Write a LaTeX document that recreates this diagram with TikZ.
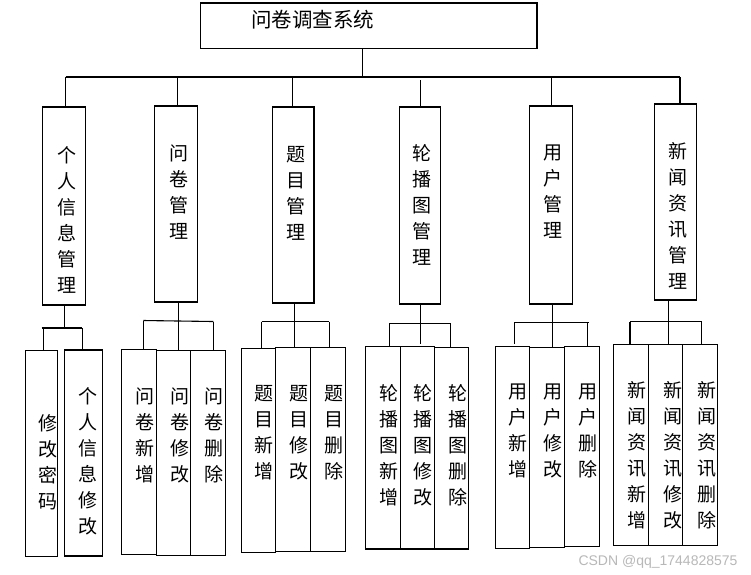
\documentclass[tikz,border=0pt]{standalone}
\usepackage{fontspec}
\newfontfamily\cjk{Noto Sans CJK SC}
\newfontfamily\wmfont{Liberation Sans}
\usetikzlibrary{calc}
\tikzset{
  boxst/.style={draw, line width=1.1pt, inner sep=0pt, outer sep=0pt},
  lbl/.style={font=\cjk\fontsize{19}{26}\selectfont, align=center, inner sep=0pt},
  conn/.style={draw, line width=1.1pt},
}
\newcommand{\mkbox}[5]{\node[boxst, minimum width={(#4-#2)*1pt}, minimum height={(#5-#3)*1pt}] (#1) at ({(#2+#4)/2},{(#3+#5)/2}) {};}
\newcommand{\dropto}[3]{\coordinate (#1) at (#2); \draw[conn] (#1) -- (#1 |- #3.north);}
\begin{document}
\begin{tikzpicture}[x=1pt,y=-1pt]
\useasboundingbox (0,0) rectangle (751,574);
\fill[white] (0,0) rectangle (751,574);
% ---- root
\mkbox{top}{200.5}{3}{537}{48.5}
\node[lbl, font=\cjk\fontsize{20.5}{24}\selectfont] (ttl) at (312.5,20) {问卷调查系统};
% ---- level 2 boxes
\mkbox{b1}{42.5}{107}{85.5}{305}
\mkbox{b2}{154.5}{106}{197.5}{302}
\mkbox{b3}{272.5}{107}{314}{303}
\mkbox{b4}{399.3}{107}{440.3}{304}
\mkbox{b5}{529.3}{106}{572.3}{304}
\mkbox{b6}{654.3}{104}{696.3}{300}
\node[lbl] (t1) at (66.7,220) {个\\人\\信\\息\\管\\理};
\node[lbl] (t2) at (179,192) {问\\卷\\管\\理};
\node[lbl] (t3) at (296,193) {题\\目\\管\\理};
\node[lbl] (t4) at (422.3,205) {轮\\播\\图\\管\\理};
\node[lbl] (t5) at (553.3,191.5) {用\\户\\管\\理};
\node[lbl] (t6) at (678.3,215.5) {新\\闻\\资\\讯\\管\\理};
% ---- bus
\coordinate (busL) at (65.6,77);
\coordinate (busR) at (680,77);
\coordinate (j0) at (362.5,77);
\draw[conn] (busL) -- (busR);
\draw[conn] (top.south -| j0) -- (j0);
\draw[conn] (busL) -- (busL |- b1.north);
\dropto{j2}{177.7,77}{b2}
\dropto{j3}{292.6,77}{b3}
\dropto{j4}{420.5,80}{b4}
\dropto{j5}{551.3,77}{b5}
\draw[conn] (busR) -- (busR |- b6.north);
% ---- level 3 boxes
\mkbox{s11}{25.7}{350.3}{57.3}{556.3}
\mkbox{s12}{64.7}{350}{102.3}{556}
\mkbox{s21}{121.3}{349.3}{156.3}{554.3}
\mkbox{s22}{156.3}{350.3}{190.3}{555.3}
\mkbox{s23}{190.3}{350.3}{225.3}{555.3}
\mkbox{s31}{241.3}{348.3}{275.3}{552.3}
\mkbox{s32}{275.3}{347.3}{310.3}{551.3}
\mkbox{s33}{310.3}{347.3}{345.3}{551.3}
\mkbox{s41}{365.3}{346.3}{400.7}{549}
\mkbox{s42}{400.7}{346.3}{434.3}{549}
\mkbox{s43}{434.3}{347.7}{468.3}{549}
\mkbox{s51}{495.7}{346.3}{529.7}{548.3}
\mkbox{s52}{529.7}{347.3}{564.3}{547.3}
\mkbox{s53}{564.3}{346.3}{599.3}{546.3}
\mkbox{s61}{613.3}{344.3}{648.3}{545.7}
\mkbox{s62}{648.3}{344.3}{682.3}{545.7}
\mkbox{s63}{682.3}{344.3}{717.3}{545.7}
% ---- level 3 texts
\node[lbl] (u11) at (47.7,462) {修\\改\\密\\码};
\node[lbl] (u12) at (88.3,461.5) {个\\人\\信\\息\\修\\改};
\node[lbl] (u21) at (145,435) {问\\卷\\新\\增};
\node[lbl] (u22) at (180,435) {问\\卷\\修\\改};
\node[lbl] (u23) at (214.3,435) {问\\卷\\删\\除};
\node[lbl] (u31) at (264.3,432.5) {题\\目\\新\\增};
\node[lbl] (u32) at (299.3,432.5) {题\\目\\修\\改};
\node[lbl] (u33) at (334.3,432.5) {题\\目\\删\\除};
\node[lbl] (u41) at (389.3,445) {轮\\播\\图\\新\\增};
\node[lbl] (u42) at (423.3,445) {轮\\播\\图\\修\\改};
\node[lbl] (u43) at (457.7,445) {轮\\播\\图\\删\\除};
\node[lbl] (u51) at (517.7,431) {用\\户\\新\\增};
\node[lbl] (u52) at (552.7,431) {用\\户\\修\\改};
\node[lbl] (u53) at (587.7,431) {用\\户\\删\\除};
\node[lbl] (u61) at (637.3,455) {新\\闻\\资\\讯\\新\\增};
\node[lbl] (u62) at (672.7,455) {新\\闻\\资\\讯\\修\\改};
\node[lbl] (u63) at (706.7,455) {新\\闻\\资\\讯\\删\\除};
% ---- group 1 connectors
\coordinate (g1) at (64.3,328);
\draw[conn] (b1.south -| g1) -- (g1);
\draw[conn] (41.7,328) coordinate (g1L) -- (82.3,328) coordinate (g1R);
\dropto{k11}{43.3,328}{s11}
\dropto{k12}{82.3,328}{s12}
% ---- group 2
\coordinate (g2) at (178.3,321);
\draw[conn] (b2.south -| g2) -- (g2);
\draw[conn] (143.3,320.5) coordinate (g2L) -- (213.3,321.5) coordinate (g2R);
\dropto{k21}{143.3,320.5}{s21}
\dropto{k22}{178.3,321}{s22}
\dropto{k23}{213.3,321.5}{s23}
% ---- group 3
\coordinate (g3) at (294.3,321.7);
\draw[conn] (b3.south -| g3) -- (g3);
\draw[conn] (261.7,321.7) coordinate (g3L) -- (329.3,321.7) coordinate (g3R);
\dropto{k31}{261.7,321.7}{s31}
\dropto{k32}{294.3,321.7}{s32}
\dropto{k33}{329.3,321.7}{s33}
% ---- group 4
\coordinate (g4) at (420.5,323.3);
\draw[conn] (b4.south -| g4) -- (g4);
\draw[conn] (389.3,323.3) coordinate (g4L) -- (450.3,323.3) coordinate (g4R);
\dropto{k41}{389.3,323.3}{s41}
\coordinate (k42) at (420.3,323.3);
\draw[conn] (k42) -- (420.3,344.3);
\dropto{k43}{450.3,323.3}{s43}
% ---- group 5
\coordinate (g5) at (552.3,322.3);
\draw[conn] (b5.south -| g5) -- (g5);
\draw[conn] (514.7,322.3) coordinate (g5L) -- (588.7,322.3) coordinate (g5R);
\coordinate (k51) at (514.7,322.3);
\draw[conn] (k51) -- (514.7,344.3);
\dropto{k52}{552.3,322.3}{s52}
\coordinate (k53) at (587.3,322.3);
\draw[conn] (k53) -- (587.3,345.7);
% ---- group 6
\coordinate (g6) at (668.3,321.7);
\draw[conn] (b6.south -| g6) -- (g6);
\draw[conn] (630,321.7) coordinate (g6L) -- (701.7,321.7) coordinate (g6R);
\dropto{k61}{630,321.7}{s61}
\dropto{k62}{668.3,321.7}{s62}
\dropto{k63}{701.7,321.7}{s63}
% ---- watermark
\node[font=\wmfont\fontsize{14}{16}\selectfont, text=black!28, inner sep=0pt] (wm) at (658,562) {CSDN @qq\_1744828575};
\end{tikzpicture}
\end{document}
